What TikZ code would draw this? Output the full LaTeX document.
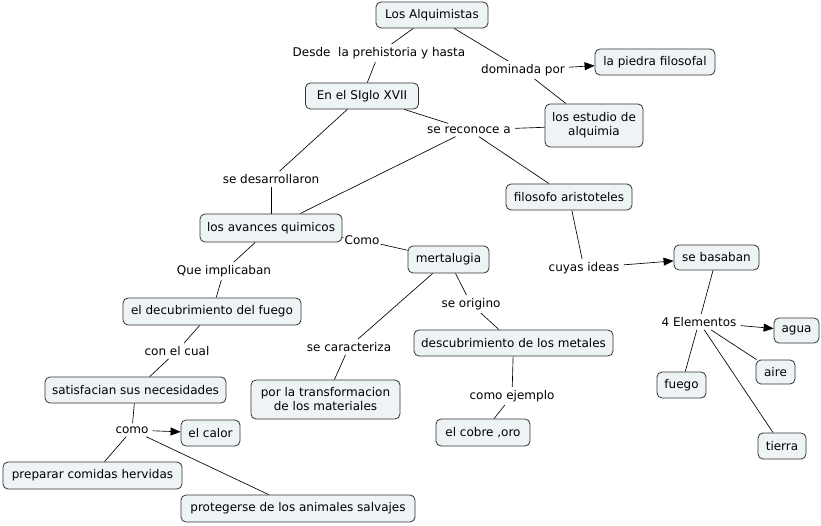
\documentclass[tikz,border=0pt]{standalone}
\usepackage{fontspec}
\setmainfont{DejaVu Sans}
\usetikzlibrary{arrows.meta,backgrounds}
\definecolor{boxfill}{HTML}{EEF3F5}
\definecolor{boxline}{HTML}{333333}
\begin{document}
\begin{tikzpicture}[x=1pt,y=-1pt,
  every node/.style={font=\fontsize{12}{14}\selectfont},
  cbox/.style={draw=boxline,fill=boxfill,rounded corners=5pt,line width=0.8pt,minimum height=26pt,inner sep=3pt,align=center},
  lbl/.style={inner xsep=4pt,inner ysep=3pt},
  conn/.style={draw=black,line width=0.65pt},
  arr/.style={conn,-{Triangle[length=10pt,width=8pt]}}
]
\useasboundingbox (0,0) rectangle (821,526);
% boxes
\node[cbox,minimum width=112pt] (alq) at (432,15) {Los Alquimistas};
\node[cbox,minimum width=120pt] (piedra) at (655,62) {la piedra filosofal};
\node[cbox,minimum width=113pt] (siglo) at (362,96) {En el SIglo XVII};
\node[cbox,minimum width=98pt,minimum height=43pt] (estudio) at (594,125.5) {los estudio de\\alquimia};
\node[cbox,minimum width=126pt] (filo) at (569,197) {filosofo aristoteles};
\node[cbox,minimum width=142pt,minimum height=28pt] (avances) at (271,228) {los avances quimicos};
\node[cbox,minimum width=81pt,minimum height=27pt] (metal) at (448.5,259.5) {mertalugia};
\node[cbox,minimum width=85pt,minimum height=25pt] (basaban) at (716.5,257.5) {se basaban};
\node[cbox,minimum width=178pt,minimum height=27pt] (fuegodesc) at (212,311.5) {el decubrimiento del fuego};
\node[cbox,minimum width=199pt] (metales) at (513.5,343) {descubrimiento de los metales};
\node[cbox,minimum width=45pt,minimum height=25pt] (agua) at (796.5,330.5) {agua};
\node[cbox,minimum width=181pt] (satis) at (135.5,390) {satisfacian sus necesidades};
\node[cbox,minimum width=149pt,minimum height=39pt] (transf) at (325.5,399.5) {por la transformacion\\de los materiales};
\node[cbox,minimum width=39pt,minimum height=24pt] (aire) at (775.5,372) {aire};
\node[cbox,minimum width=49pt] (fuego) at (681.5,385) {fuego};
\node[cbox,minimum width=59pt] (calor) at (210.5,433) {el calor};
\node[cbox,minimum width=94pt,minimum height=27pt] (cobre) at (483,432.5) {el cobre ,oro};
\node[cbox,minimum width=48pt] (tierra) at (782,446) {tierra};
\node[cbox,minimum width=179pt,minimum height=27pt] (comidas) at (92.5,475.5) {preparar comidas hervidas};
\node[cbox,minimum width=234pt,minimum height=27pt] (proteg) at (298,508.5) {protegerse de los animales salvajes};
% labels
\node[lbl] (desde) at (379,53) {Desde\ \ la prehistoria y hasta};
\node[lbl] (domin) at (523,70) {dominada por};
\node[lbl] (recon) at (469,130) {se reconoce a};
\node[lbl] (desarr) at (271,179) {se desarrollaron};
\node[inner sep=1pt] (como1) at (362,240) {Como};
\node[lbl] (implic) at (224,271) {Que implicaban};
\node[lbl] (cuyas) at (584,268) {cuyas ideas};
\node[lbl] (caract) at (349,347) {se caracteriza};
\node[lbl] (orig) at (471,304) {se origino};
\node[lbl] (elem) at (699,322) {4 Elementos};
\node[lbl] (cual) at (177,351) {con el cual};
\node[lbl] (ejem) at (512,396) {como ejemplo};
\node[lbl] (como2) at (132,430) {como};
% connectors
\begin{scope}[on background layer]
\fill[white] (0,0) rectangle (821,526);
\draw[conn] (alq) -- (desde);
\draw[conn] (desde) -- (siglo);
\draw[conn] (alq) -- (domin);
\draw[arr] (domin) -- (piedra);
\draw[conn] (estudio) -- (domin);
\draw[conn] (siglo) -- (recon);
\draw[conn] (recon) -- (estudio);
\draw[conn] (recon) -- (avances);
\draw[conn] (recon) -- (filo);
\draw[conn] (siglo) -- (desarr);
\draw[conn] (desarr) -- (avances);
\draw[conn] (avances) -- (como1);
\draw[conn] (como1) -- (metal);
\draw[conn] (avances) -- (implic);
\draw[conn] (implic) -- (fuegodesc);
\draw[conn] (fuegodesc) -- (cual);
\draw[conn] (cual) -- (satis);
\draw[conn] (satis) -- (como2);
\draw[arr] (como2) -- (calor);
\draw[conn] (como2) -- (comidas);
\draw[conn] (como2) -- (proteg);
\draw[conn] (metal) -- (caract);
\draw[conn] (caract) -- (transf);
\draw[conn] (metal) -- (orig);
\draw[conn] (orig) -- (metales);
\draw[conn] (metales) -- (ejem);
\draw[conn] (ejem) -- (cobre);
\draw[conn] (filo) -- (cuyas);
\draw[arr] (cuyas) -- (basaban);
\draw[conn] (basaban) -- (elem);
\draw[arr] (elem) -- (agua);
\draw[conn] (elem) -- (aire);
\draw[conn] (elem) -- (fuego);
\draw[conn] (elem) -- (tierra);
\end{scope}
\end{tikzpicture}
\end{document}
